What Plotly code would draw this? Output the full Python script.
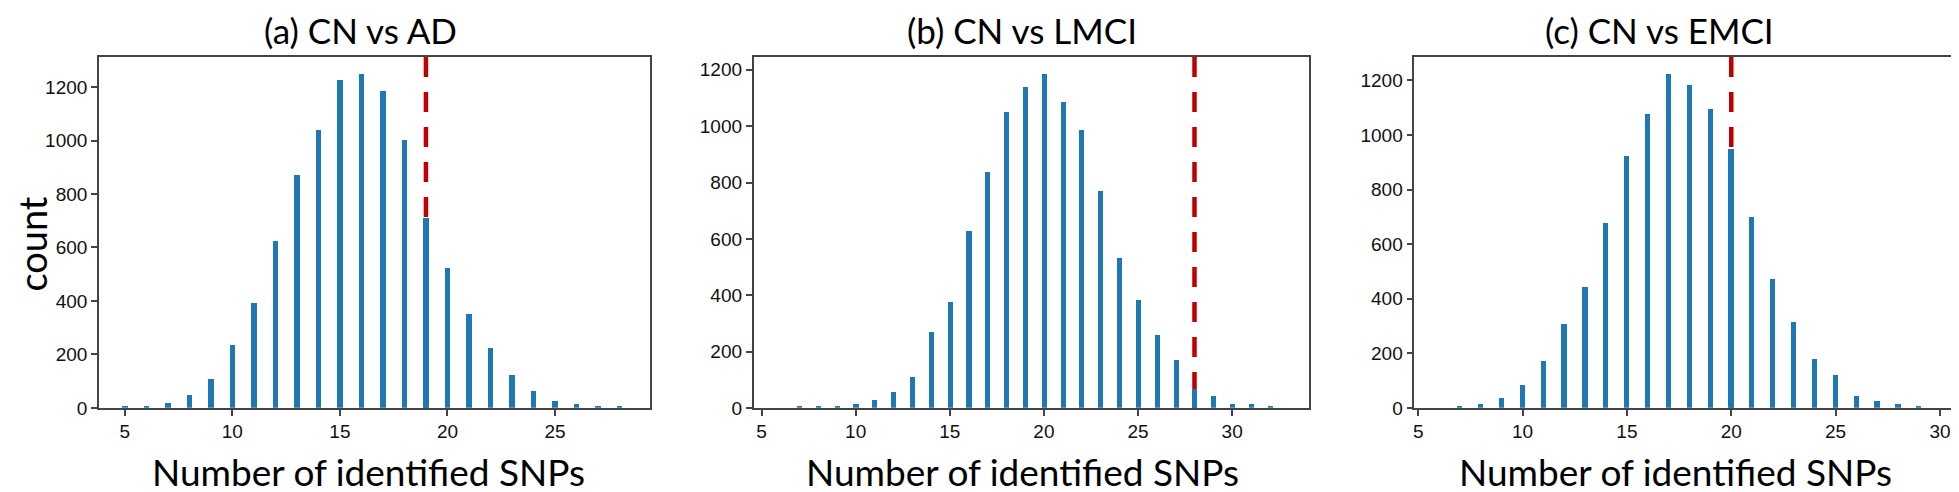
import plotly.graph_objects as go

# number of identified SNPs (bin centres) and counts, one list per panel
snps_ad = [5, 6, 7, 8, 9, 10, 11, 12, 13, 14, 15, 16, 17, 18, 19, 20, 21, 22, 23, 24, 25, 26, 27, 28]
count_ad = [7, 6, 20, 50, 110, 236, 392, 625, 872, 1039, 1226, 1250, 1184, 1003, 709, 525, 351, 224, 123, 62, 27, 16, 7, 7]

snps_lmci = [7, 8, 9, 10, 11, 12, 13, 14, 15, 16, 17, 18, 19, 20, 21, 22, 23, 24, 25, 26, 27, 28, 29, 30, 31, 32]
count_lmci = [7, 7, 7, 13, 30, 58, 109, 270, 377, 627, 839, 1049, 1141, 1186, 1088, 987, 769, 532, 384, 259, 171, 69, 41, 13, 13, 7]

snps_emci = [7, 8, 9, 10, 11, 12, 13, 14, 15, 16, 17, 18, 19, 20, 21, 22, 23, 24, 25, 26, 27, 28, 29]
count_emci = [7, 14, 38, 85, 173, 309, 444, 676, 924, 1077, 1224, 1183, 1094, 948, 700, 474, 315, 179, 120, 43, 26, 14, 7]

titles = ["(a) CN vs AD", "(b) CN vs LMCI", "(c) CN vs EMCI"]
thresholds = [19, 28, 20]

W, H = 1959, 492
BAR = "#1f77b4"
RED = "#c00000"
AX = "#444444"
TXT_FONT = "Lato"

# pixel boxes of the three axes
boxes = [(90, 641), (745, 1301), (1406, 1957)]
top_px, bot_px = 50, 409
xranges = [[3.8, 29.4], [4.58, 34.1], [4.81, 31.2]]
yranges = [[0, 1313], [0, 1246], [0, 1286]]
widths = [0.25, 0.27, 0.25]
title_cx = [352, 1014, 1651]
xlabel_cx = [360, 1014, 1667]

panels = [(snps_ad, count_ad), (snps_lmci, count_lmci), (snps_emci, count_emci)]

fig = go.Figure()
layout = dict(
    width=W, height=H,
    margin=dict(l=0, r=0, t=0, b=0),
    plot_bgcolor="white", paper_bgcolor="white",
    showlegend=False, bargap=0,
    font=dict(family="Liberation Sans", size=19, color="#111"),
)
annotations = []
shapes = []

for i, (xs, ys) in enumerate(panels):
    n = "" if i == 0 else str(i + 1)
    fig.add_trace(go.Bar(x=xs, y=ys, width=widths[i], marker=dict(color=BAR, line=dict(width=0)),
                         xaxis="x" + n, yaxis="y" + n))
    x0, x1 = boxes[i]
    axis_common = dict(showline=True, linecolor=AX, linewidth=1.5, mirror=True,
                       ticks="outside", ticklen=6, tickcolor=AX, tickwidth=1.5,
                       showgrid=False, zeroline=False)
    layout["xaxis" + n] = dict(domain=[x0 / W, x1 / W], range=xranges[i], dtick=5, tick0=0,
                               anchor="y" + n, **axis_common)
    layout["yaxis" + n] = dict(domain=[1 - bot_px / H, 1 - top_px / H], range=yranges[i], dtick=200,
                               anchor="x" + n, **axis_common)
    # threshold line, drawn under the bars
    shapes.append(dict(type="line", xref="x" + n, yref="y" + n + " domain",
                       x0=thresholds[i], x1=thresholds[i], y0=1, y1=0, layer="below",
                       line=dict(color=RED, width=4.5, dash="20px,15px")))
    annotations.append(dict(text=titles[i], xref="paper", yref="paper",
                            x=title_cx[i] / W, y=1 - 22 / H, xanchor="center", yanchor="middle",
                            showarrow=False, font=dict(family=TXT_FONT, size=35, color="black")))
    annotations.append(dict(text="Number of identified SNPs", xref="paper", yref="paper",
                            x=xlabel_cx[i] / W, y=1 - 474 / H, xanchor="center", yanchor="middle",
                            showarrow=False, font=dict(family=TXT_FONT, size=37, color="black")))

annotations.append(dict(text="count", xref="paper", yref="paper", x=23 / W, y=1 - 241 / H,
                        xanchor="center", yanchor="middle", textangle=-90, showarrow=False,
                        font=dict(family=TXT_FONT, size=38, color="black")))

layout["annotations"] = annotations
layout["shapes"] = shapes
fig.update_layout(**layout)

fig.write_html("out.html")
